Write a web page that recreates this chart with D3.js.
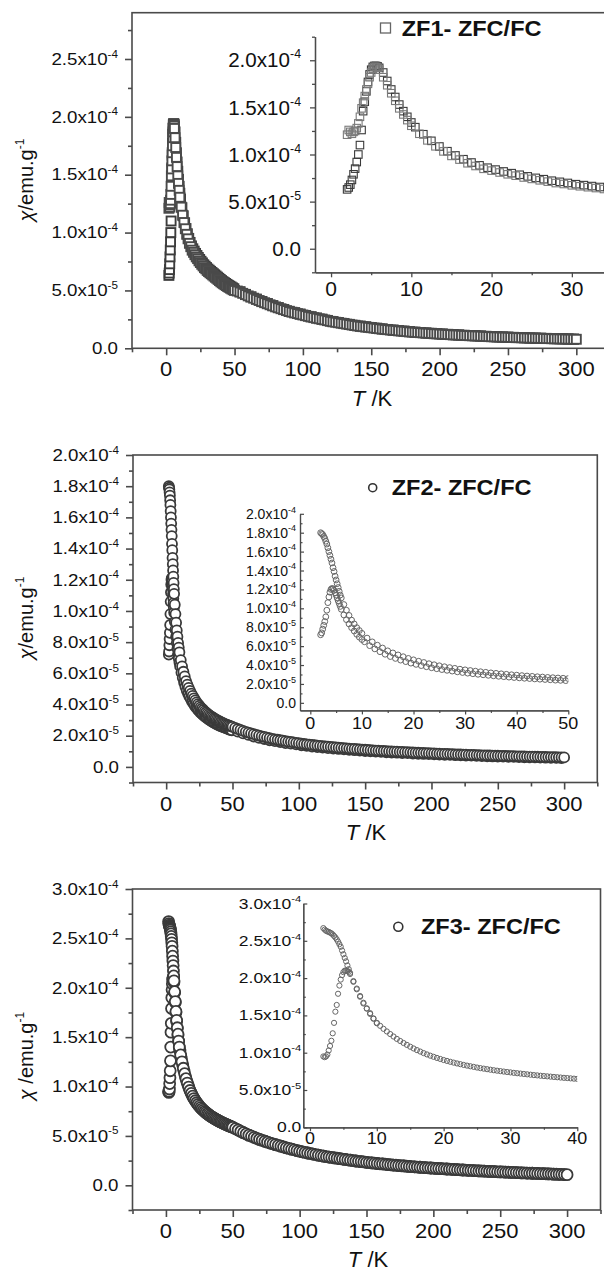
<!DOCTYPE html>
<html>
<head>
<meta charset="utf-8">
<script src="https://cdn.jsdelivr.net/npm/d3@7"></script>
<style>
  html, body { margin: 0; padding: 0; background: #fff; }
  svg { display: block; }
  text { font-family: "Liberation Sans", Arial, Helvetica, sans-serif; fill: #111; }
</style>
</head>
<body>
<svg id="chart" width="604" height="1271"></svg>
<script>
// ---------------------------------------------------------------
// Temperature grids (K) of the two sweeps
// ---------------------------------------------------------------
const tempFc = [
  2.0,2.2,2.4,2.6,2.8,3.0,3.2,3.4,3.6,3.8,4.0,4.2,4.4,4.6,4.8,5.0,5.2,5.4,5.6,5.8,6.0,
  6.5,7,7.5,8,8.5,9,9.5,10,
  11,12,13,14,15,16,17,18,19,20,21,22,23,24,25,26,27,28,29,30,
  31,32,33,34,35,36,37,38,39,40,41,42,43,44,45,46,47,48,49,50,
  52,54,56,58,60,62,64,66,68,70,72,74,76,78,80,82,84,86,88,90,92,94,96,98,100,
  102,104,106,108,110,112,114,116,118,120,122,124,126,128,130,132,134,136,138,140,
  142,144,146,148,150,152,154,156,158,160,162,164,166,168,170,172,174,176,178,180,
  182,184,186,188,190,192,194,196,198,200,202,204,206,208,210,212,214,216,218,220,
  222,224,226,228,230,232,234,236,238,240,242,244,246,248,250,252,254,256,258,260,
  262,264,266,268,270,272,274,276,278,280,282,284,286,288,290,292,294,296,298,300
];
const tempZfc = [
  2.0,2.2,2.4,2.6,2.8,3.0,3.2,3.4,3.6,3.8,4.0,4.2,4.4,4.6,4.8,5.0,5.2,5.4,5.6,5.8,6.0,
  6.5,7,7.5,8,8.5,9,9.5,10,
  10.5,11.5,12.5,13.5,14.5,15.5,16.5,17.5,18.5,19.5,20.5,21.5,22.5,23.5,24.5,25.5,26.5,27.5,28.5,29.5,
  30.5,31.5,32.5,33.5,34.5,35.5,36.5,37.5,38.5,39.5,40.5,41.5,42.5,43.5,44.5,45.5,46.5,47.5,48.5,49.5,
  54,58,62,66,70,74,78,82,86,90,94,98,102,106,110,114,118,122,126,130,134,138,142,
  146,150,154,158,162,166,170,174,178,182,186,190,194,198,202,206,210,214,218,222,
  226,230,234,238,242,246,250,254,258,262,266,270,274,278,282,286,290,294,298
];

// ---------------------------------------------------------------
// Susceptibility, in units of 1e-5 emu/g
// ---------------------------------------------------------------
const zf1Zfc = [
  6.3,6.5,6.8,7.3,7.9,8.5,9.2,10.0,11.0,12.6,14.6,15.6,16.7,17.7,18.5,19.0,19.3,19.4,19.4,19.35,19.2,
  18.7,17.8,16.9,16.1,15.3,14.6,14.0,13.4,
  12.9,12.15,11.45,10.85,10.35,9.9,9.5,9.15,8.85,8.6,8.4,8.2,8.02,7.85,7.68,7.52,7.38,7.22,7.1,6.98,
  6.85,6.75,6.65,6.55,6.45,6.35,6.25,6.15,6.05,5.95,5.85,5.76,5.68,5.6,5.52,5.44,5.37,5.3,5.22,5.15,
  4.89,4.66,4.45,4.25,4.05,3.87,3.69,3.52,3.36,3.2,3.08,2.96,2.84,2.73,2.62,2.52,2.41,2.31,2.23,2.15,2.07,1.99,1.92,
  1.86,1.8,1.74,1.68,1.63,1.58,1.53,1.49,1.44,1.4,1.37,1.33,1.3,1.27,1.24,1.21,1.18,1.16,1.13,1.11,
  1.09,1.07,1.04,1.02,1.0,0.98,0.97,0.95,0.93,0.92,0.9,0.89,0.88,0.86,0.85,0.84,0.83,0.81,0.8
];
const zf1Fc = [
  12.1,12.6,12.4,12.2,12.4,12.5,12.8,13.3,14.0,14.9,15.5,16.2,16.9,17.5,18.2,18.7,19.1,19.3,19.3,19.2,19.0,
  18.2,17.35,16.5,15.7,14.9,14.25,13.65,13.05,
  12.2,11.5,10.87,10.33,9.85,9.46,9.07,8.78,8.48,8.29,8.09,7.9,7.75,7.56,7.41,7.26,7.12,6.97,6.87,6.73,
  6.63,6.53,6.44,6.34,6.24,6.14,6.05,5.95,5.85,5.75,5.66,5.58,5.5,5.42,5.34,5.27,5.2,5.13,5.06,5.0,
  4.95,4.86,4.75,4.64,4.53,4.43,4.33,4.23,4.13,4.03,3.94,3.85,3.76,3.67,3.58,3.5,3.42,3.34,3.26,3.18,3.12,3.06,3.0,2.94,2.88,
  2.82,2.76,2.71,2.65,2.6,2.55,2.5,2.45,2.39,2.33,2.29,2.25,2.21,2.17,2.13,2.09,2.05,2.01,1.97,1.93,
  1.9,1.87,1.84,1.81,1.78,1.75,1.72,1.69,1.66,1.63,1.61,1.58,1.56,1.54,1.51,1.49,1.47,1.44,1.42,1.4,
  1.38,1.36,1.35,1.33,1.31,1.3,1.28,1.26,1.25,1.23,1.22,1.2,1.19,1.18,1.16,1.15,1.14,1.12,1.11,1.1,
  1.09,1.08,1.07,1.06,1.05,1.03,1.02,1.01,1.0,0.99,0.98,0.97,0.96,0.96,0.95,0.94,0.93,0.92,0.92,0.91,
  0.9,0.89,0.88,0.88,0.87,0.86,0.86,0.85,0.84,0.84,0.83,0.82,0.82,0.81,0.81,0.8,0.79,0.79,0.78,0.78
];
const zf2Zfc = [
  7.2,7.4,7.8,8.2,8.6,9.1,9.8,10.6,11.2,11.7,12.0,12.1,12.05,11.9,11.65,11.4,11.1,10.8,10.5,10.2,9.9,
  9.3,8.8,8.35,7.95,7.6,7.25,6.95,6.7,
  6.46,6.05,5.71,5.41,5.14,4.9,4.7,4.52,4.36,4.2,4.07,3.94,3.82,3.71,3.61,3.52,3.44,3.36,3.28,3.21,
  3.14,3.08,3.02,2.97,2.91,2.86,2.81,2.77,2.72,2.68,2.64,2.6,2.57,2.53,2.5,2.47,2.44,2.4,2.38,2.35,
  2.26,2.15,2.05,1.95,1.86,1.79,1.71,1.65,1.59,1.53,1.49,1.44,1.39,1.35,1.31,1.27,1.24,1.2,1.18,1.15,1.12,1.09,1.07,
  1.05,1.02,1.0,0.98,0.96,0.94,0.92,0.91,0.89,0.88,0.86,0.84,0.83,0.82,0.8,0.79,0.78,0.77,0.75,0.74,
  0.73,0.72,0.71,0.69,0.68,0.67,0.66,0.66,0.65,0.64,0.63,0.62,0.61,0.61,0.6,0.59,0.58,0.58,0.57
];
const zf2Fc = [
  18.0,17.9,17.8,17.6,17.4,17.1,16.8,16.4,16.0,15.6,15.2,14.8,14.3,13.9,13.4,13.0,12.6,12.2,11.8,11.4,11.1,
  10.4,9.8,9.25,8.75,8.35,7.95,7.65,7.35,
  6.85,6.45,6.1,5.8,5.5,5.28,5.07,4.88,4.7,4.55,4.4,4.27,4.14,4.03,3.92,3.82,3.73,3.65,3.56,3.49,
  3.42,3.35,3.29,3.23,3.17,3.12,3.07,3.02,2.97,2.93,2.88,2.84,2.8,2.76,2.73,2.69,2.66,2.63,2.6,2.57,
  2.5,2.43,2.37,2.31,2.25,2.2,2.15,2.1,2.05,2.0,1.96,1.92,1.88,1.84,1.8,1.77,1.74,1.71,1.68,1.65,1.62,1.6,1.57,1.545,1.52,
  1.495,1.47,1.45,1.43,1.41,1.39,1.37,1.35,1.33,1.31,1.295,1.28,1.265,1.25,1.235,1.22,1.205,1.19,1.175,1.16,
  1.15,1.14,1.125,1.11,1.1,1.09,1.075,1.06,1.05,1.04,1.03,1.02,1.01,1.0,0.99,0.985,0.975,0.965,0.958,0.95,
  0.943,0.935,0.925,0.915,0.908,0.9,0.893,0.885,0.878,0.87,0.863,0.855,0.848,0.84,0.835,0.83,0.823,0.815,0.808,0.8,
  0.795,0.79,0.783,0.775,0.77,0.765,0.758,0.75,0.745,0.74,0.735,0.73,0.725,0.72,0.715,0.71,0.705,0.7,0.695,0.69,
  0.685,0.68,0.678,0.675,0.67,0.665,0.66,0.655,0.653,0.65,0.645,0.64,0.635,0.63,0.628,0.625,0.62,0.615,0.613,0.61
];
const zf3Zfc = [
  9.5,9.4,9.5,9.75,10.3,10.9,11.6,12.6,14.0,15.5,16.4,17.9,19.0,19.8,20.4,20.8,21.0,21.0,20.95,20.85,20.55,
  19.5,18.5,17.5,16.6,15.9,15.2,14.55,13.95,
  13.6,12.85,12.17,11.57,11.05,10.57,10.15,9.77,9.45,9.16,8.9,8.67,8.46,8.27,8.1,7.93,7.79,7.65,7.53,7.41,
  7.3,7.2,7.1,7.0,6.91,6.83,6.75,6.67,6.6,6.52,6.45,6.38,6.32,6.25,6.19,6.13,6.07,6.01,5.95,5.9,
  5.6,5.33,5.08,4.86,4.65,4.46,4.28,4.12,3.96,3.8,3.66,3.52,3.39,3.27,3.16,3.05,2.95,2.86,2.78,2.7,2.62,2.54,2.46,
  2.4,2.33,2.27,2.21,2.16,2.1,2.05,2.0,1.96,1.91,1.87,1.83,1.79,1.75,1.71,1.68,1.65,1.62,1.58,1.55,
  1.52,1.49,1.46,1.44,1.41,1.39,1.36,1.33,1.31,1.29,1.26,1.24,1.22,1.2,1.18,1.16,1.13,1.11,1.09
];
const zf3Fc = [
  26.7,26.5,26.35,26.25,26.2,26.1,26.0,25.85,25.65,25.45,25.2,24.9,24.55,24.2,23.7,23.2,22.7,22.25,21.7,21.2,20.7,
  19.6,18.6,17.6,16.7,15.95,15.3,14.6,14.0,
  13.2,12.5,11.85,11.3,10.8,10.35,9.95,9.6,9.3,9.02,8.78,8.56,8.36,8.18,8.01,7.86,7.72,7.59,7.47,7.36,
  7.25,7.15,7.05,6.96,6.87,6.79,6.71,6.63,6.56,6.49,6.42,6.35,6.29,6.22,6.16,6.1,6.04,5.98,5.93,5.87,
  5.73,5.6,5.46,5.33,5.2,5.08,4.97,4.86,4.75,4.65,4.55,4.46,4.37,4.28,4.2,4.12,4.04,3.96,3.88,3.8,3.73,3.66,3.59,3.52,3.45,
  3.39,3.33,3.27,3.22,3.16,3.11,3.05,3.0,2.95,2.9,2.86,2.82,2.78,2.74,2.7,2.66,2.62,2.58,2.54,2.5,
  2.46,2.43,2.4,2.37,2.33,2.3,2.27,2.24,2.21,2.18,2.16,2.13,2.1,2.08,2.05,2.03,2.0,1.98,1.96,1.93,
  1.91,1.89,1.87,1.85,1.83,1.81,1.79,1.77,1.75,1.73,1.71,1.7,1.68,1.67,1.65,1.63,1.62,1.6,1.58,1.57,
  1.55,1.54,1.52,1.51,1.49,1.48,1.46,1.45,1.44,1.42,1.41,1.4,1.39,1.37,1.36,1.35,1.33,1.32,1.31,1.3,
  1.29,1.28,1.26,1.25,1.24,1.23,1.22,1.21,1.2,1.19,1.18,1.17,1.16,1.15,1.13,1.12,1.11,1.1,1.09,1.08
];

// ---------------------------------------------------------------
// Tick values
// ---------------------------------------------------------------
const mainTempTicks = [0, 50, 100, 150, 200, 250, 300];
const zf1ChiTicks = [0, 5e-5, 1e-4, 1.5e-4, 2e-4, 2.5e-4];
const zf2ChiTicks = [0, 2e-5, 4e-5, 6e-5, 8e-5, 1e-4, 1.2e-4, 1.4e-4, 1.6e-4, 1.8e-4, 2e-4];
const zf3ChiTicks = [0, 5e-5, 1e-4, 1.5e-4, 2e-4, 2.5e-4, 3e-4];
const zf1InsetChiTicks = [0, 5e-5, 1e-4, 1.5e-4, 2e-4];
const zf1InsetTempTicks = [0, 10, 20, 30];
const zf2InsetTempTicks = [0, 10, 20, 30, 40, 50];
const zf3InsetTempTicks = [0, 10, 20, 30, 40];
const legendLabels = ['ZF1- ZFC/FC', 'ZF2- ZFC/FC', 'ZF3- ZFC/FC'];

const UNIT = 1e-5;
const AXIS = '#4a4a4a';

function toPoints(temps, vals) {
  const n = Math.min(temps.length, vals.length);
  const out = [];
  for (let i = 0; i < n; i++) out.push({ t: temps[i], v: vals[i] * UNIT });
  return out;
}

// "2.5x10^-4" style label
function sciParts(v) {
  if (Math.abs(v) < 1e-12) return ['0.0', null];
  const e = Math.floor(Math.log10(Math.abs(v)) + 1e-9);
  const m = v / Math.pow(10, e);
  return [m.toFixed(1) + 'x10', String(e)];
}

function sciLabel(g, x, y, v, o) {
  const gg = g.append('g').attr('transform', `translate(${x},${y}) scale(${o.sx},1)`);
  const t = gg.append('text').attr('text-anchor', o.anchor).attr('font-size', o.size);
  const [m, e] = sciParts(v);
  t.append('tspan').text(m);
  if (e) t.append('tspan').attr('font-size', o.sup).attr('dy', -o.size * 0.45).text(e);
}

function plainLabel(g, x, y, str, o) {
  g.append('g').attr('transform', `translate(${x},${y}) scale(${o.sx},1)`)
    .append('text').attr('text-anchor', o.anchor).attr('font-size', o.size).text(str);
}

function styleAxis(sel, w) {
  sel.selectAll('path.domain').attr('stroke', AXIS).attr('stroke-width', w);
  sel.selectAll('.tick line').attr('stroke', AXIS).attr('stroke-width', w);
  sel.selectAll('.tick text').remove();
}

function minorTicks(dom, step, majors) {
  const out = [];
  const start = Math.ceil(dom[0] / step - 1e-9) * step;
  for (let v = start; v <= dom[1] + 1e-12; v += step) {
    const vv = Math.round(v / step) * step;
    if (!majors.some(m => Math.abs(m - vv) < step * 1e-3)) out.push(vv);
  }
  return out;
}

function drawMarkers(g, pts, x, y, shape, size, stroke, sw, fill) {
  if (shape === 'square') {
    g.selectAll(null).data(pts).join('rect')
      .attr('x', d => x(d.t) - size / 2).attr('y', d => y(d.v) - size / 2)
      .attr('width', size).attr('height', size)
      .attr('fill', fill).attr('stroke', stroke).attr('stroke-width', sw);
  } else {
    g.selectAll(null).data(pts).join('circle')
      .attr('cx', d => x(d.t)).attr('cy', d => y(d.v)).attr('r', size)
      .attr('fill', fill).attr('stroke', stroke).attr('stroke-width', sw);
  }
}

const svg = d3.select('#chart');
let clipId = 0;

function drawBox(b, zfc, fc, shape) {
  const x = d3.scaleLinear().domain(b.xDom).range([b.left, b.right]);
  const y = d3.scaleLinear().domain(b.yDom).range([b.bottom, b.top]);
  const g = svg.append('g');

  // data, clipped to the plotting area
  const id = 'clip' + (clipId++);
  svg.append('clipPath').attr('id', id).append('rect')
    .attr('x', b.left).attr('y', b.top)
    .attr('width', b.right - b.left).attr('height', b.bottom - b.top);
  const dg = g.append('g').attr('clip-path', `url(#${id})`);
  drawMarkers(dg, zfc, x, y, shape, b.size, b.zfcStroke, b.sw, b.fill);
  drawMarkers(dg, fc, x, y, shape, b.size, b.fcStroke, b.sw, b.fill);

  // frame / axes
  if (b.frame) {
    g.append('rect').attr('x', b.left).attr('y', b.top)
      .attr('width', b.right - b.left).attr('height', b.bottom - b.top)
      .attr('fill', 'none').attr('stroke', AXIS).attr('stroke-width', b.lw);
  }
  const xMin = minorTicks(b.xDom, b.xMinorStep, b.xTicks);
  const yMin = minorTicks(b.yDom, b.yMinorStep, b.yTicks);

  const xa = g.append('g').attr('transform', `translate(0,${b.bottom})`);
  xa.call(d3.axisBottom(x).tickValues(b.xTicks).tickSize(b.majorLen).tickSizeOuter(0).tickFormat(''));
  styleAxis(xa, b.lw);
  const xa2 = g.append('g').attr('transform', `translate(0,${b.bottom})`);
  xa2.call(d3.axisBottom(x).tickValues(xMin).tickSize(b.minorLen).tickSizeOuter(0).tickFormat(''));
  styleAxis(xa2, b.lw);

  const dir = b.yInward ? -1 : 1;
  const ya = g.append('g').attr('transform', `translate(${b.left},0)`);
  ya.call(d3.axisLeft(y).tickValues(b.yTicks).tickSize(b.majorLen * dir).tickSizeOuter(0).tickFormat(''));
  styleAxis(ya, b.lw);
  const ya2 = g.append('g').attr('transform', `translate(${b.left},0)`);
  ya2.call(d3.axisLeft(y).tickValues(yMin).tickSize(b.minorLen * dir).tickSizeOuter(0).tickFormat(''));
  styleAxis(ya2, b.lw);
  if (b.frame) { g.selectAll('path.domain').remove(); }

  // tick labels
  b.xTicks.forEach(t => plainLabel(g, x(t), b.bottom + b.xLabelOff, String(t), b.xFont));
  b.yTicks.forEach(v => sciLabel(g, b.left - b.yLabelGap, y(v) + b.yFont.size * 0.36, v, b.yFont));
  return { x, y };
}

function drawPanel(p) {
  const zfc = toPoints(tempZfc, p.zfc);
  const fc = toPoints(tempFc, p.fc);
  drawBox(p.main, zfc, fc, p.shape);
  drawBox(p.inset, zfc, fc, p.shape);

  // axis titles
  const yt = svg.append('text')
    .attr('transform', `translate(${p.yTitle.x},${p.yTitle.y}) rotate(-90)`)
    .attr('text-anchor', 'middle').attr('font-size', 20);
  yt.append('tspan').attr('font-style', 'italic').text('χ');
  yt.append('tspan').text(p.yTitle.gap ? ' /emu.g' : '/emu.g');
  yt.append('tspan').attr('font-size', 12).attr('dy', -9).text('-1');

  const xt = svg.append('text')
    .attr('x', p.xTitle.x).attr('y', p.xTitle.y)
    .attr('text-anchor', 'middle').attr('font-size', 22);
  xt.append('tspan').attr('font-style', 'italic').text('T');
  xt.append('tspan').text(' /K');

  // legend
  const L = p.legend;
  if (p.shape === 'square') {
    svg.append('rect').attr('x', L.sx - 5).attr('y', L.sy - 5).attr('width', 10).attr('height', 10)
      .attr('fill', '#fff').attr('stroke', '#666').attr('stroke-width', 1.3);
  } else {
    svg.append('circle').attr('cx', L.sx).attr('cy', L.sy).attr('r', L.r)
      .attr('fill', '#fff').attr('stroke', '#333').attr('stroke-width', 1.6);
  }
  svg.append('g').attr('transform', `translate(${L.tx},${L.ty}) scale(1.07,1)`)
    .append('text').attr('font-size', 22).attr('font-weight', 'bold').text(L.text);
}

const mainXFont = { size: 20, sx: 1.1, anchor: 'middle' };
const mainYFont = { size: 16, sup: 10, sx: 1.17, anchor: 'end' };

const panels = [
  {
    shape: 'square', zfc: zf1Zfc, fc: zf1Fc,
    main: {
      left: 132, right: 610.5, top: 12.7, bottom: 348.3, xDom: [-25, 325], yDom: [0, 2.9e-4],
      xTicks: mainTempTicks, yTicks: zf1ChiTicks, xMinorStep: 25, yMinorStep: 2.5e-5,
      majorLen: 7, minorLen: 4, lw: 1.6, frame: true,
      xLabelOff: 28, yLabelGap: 14, xFont: mainXFont, yFont: mainYFont,
      size: 9, zfcStroke: '#3c3c3c', fcStroke: '#4a4a4a', sw: 1.9, fill: '#fff'
    },
    inset: {
      left: 315, right: 612, top: 36.7, bottom: 272.3, xDom: [-2, 35], yDom: [-2.5e-5, 2.25e-4],
      xTicks: zf1InsetTempTicks, yTicks: zf1InsetChiTicks, xMinorStep: 5, yMinorStep: 2.5e-5,
      majorLen: 5, minorLen: 3, lw: 1.3, frame: false,
      xLabelOff: 24, yLabelGap: 14,
      xFont: { size: 21, sx: 1.0, anchor: 'middle' }, yFont: { size: 20, sup: 12, sx: 1.03, anchor: 'end' },
      size: 7.5, zfcStroke: '#3a3a3a', fcStroke: '#7a7a7a', sw: 1.1, fill: 'none'
    },
    yTitle: { x: 33, y: 180, gap: false },
    xTitle: { x: 372, y: 406 },
    legend: { text: legendLabels[0], sx: 385.5, sy: 28, tx: 401.7, ty: 36 }
  },
  {
    shape: 'circle', zfc: zf2Zfc, fc: zf2Fc,
    main: {
      left: 133, right: 597.3, top: 455, bottom: 782.5, xDom: [-25, 325], yDom: [-1e-5, 2e-4],
      xTicks: mainTempTicks, yTicks: zf2ChiTicks, xMinorStep: 25, yMinorStep: 1e-5,
      majorLen: 7, minorLen: 4, lw: 1.6, frame: true,
      xLabelOff: 28, yLabelGap: 14, xFont: mainXFont, yFont: mainYFont,
      size: 5, zfcStroke: '#3a3a3a', fcStroke: '#3a3a3a', sw: 1.8, fill: '#fff'
    },
    inset: {
      left: 300, right: 568.3, top: 513.8, bottom: 710.4, xDom: [-2, 50], yDom: [-8e-6, 2e-4],
      xTicks: zf2InsetTempTicks, yTicks: zf2ChiTicks, xMinorStep: 5, yMinorStep: 1e-5,
      majorLen: 4, minorLen: 2.5, lw: 1.2, frame: false, yInward: true,
      xLabelOff: 19, yLabelGap: 4,
      xFont: { size: 16, sx: 1.12, anchor: 'middle' }, yFont: { size: 14, sup: 9, sx: 1.0, anchor: 'end' },
      size: 2.9, zfcStroke: '#666', fcStroke: '#666', sw: 1, fill: 'none'
    },
    yTitle: { x: 33, y: 618, gap: false },
    xTitle: { x: 366, y: 840 },
    legend: { text: legendLabels[1], sx: 372.7, sy: 487.7, r: 4, tx: 391.7, ty: 495 }
  },
  {
    shape: 'circle', zfc: zf3Zfc, fc: zf3Fc,
    main: {
      left: 132.5, right: 600.5, top: 889, bottom: 1210, xDom: [-25, 325], yDom: [-2.5e-5, 3e-4],
      xTicks: mainTempTicks, yTicks: zf3ChiTicks, xMinorStep: 25, yMinorStep: 2.5e-5,
      majorLen: 7, minorLen: 4, lw: 1.6, frame: true,
      xLabelOff: 28, yLabelGap: 14, xFont: mainXFont, yFont: mainYFont,
      size: 5.5, zfcStroke: '#3a3a3a', fcStroke: '#3a3a3a', sw: 1.8, fill: '#fff'
    },
    inset: {
      left: 303.3, right: 577.3, top: 903.5, bottom: 1127.3, xDom: [-1, 40], yDom: [0, 3e-4],
      xTicks: zf3InsetTempTicks, yTicks: zf3ChiTicks, xMinorStep: 5, yMinorStep: 2.5e-5,
      majorLen: 4, minorLen: 2.5, lw: 1.2, frame: false, yInward: true,
      xLabelOff: 17, yLabelGap: 2,
      xFont: { size: 16, sx: 1.12, anchor: 'middle' }, yFont: { size: 14, sup: 9, sx: 1.25, anchor: 'end' },
      size: 2.6, zfcStroke: '#666', fcStroke: '#666', sw: 1, fill: 'none'
    },
    yTitle: { x: 33, y: 1056, gap: true },
    xTitle: { x: 368, y: 1267 },
    legend: { text: legendLabels[2], sx: 398.3, sy: 926.7, r: 4.5, tx: 421, ty: 934 }
  }
];

panels.forEach(drawPanel);
</script>
</body>
</html>
